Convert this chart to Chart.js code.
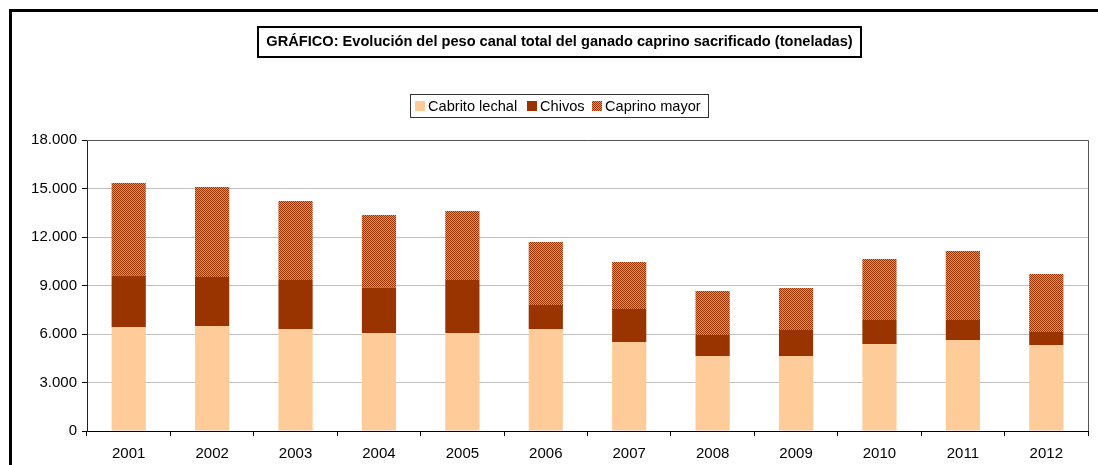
<!DOCTYPE html>
<html>
<head>
<meta charset="utf-8">
<script src="https://cdn.jsdelivr.net/npm/chart.js@4"></script>
<style>
  html, body { margin: 0; padding: 0; background: #fff; }
  #wrap { width: 1098px; height: 465px; position: relative; }
</style>
</head>
<body>
<div id="wrap"><canvas id="caprinoChart" width="1098" height="465"></canvas></div>
<script>
(function() {
    'use strict';

    const years = ['2001', '2002', '2003', '2004', '2005', '2006', '2007', '2008', '2009', '2010', '2011', '2012'];
    const cabritoLechal = [6430, 6500, 6310, 6060, 6060, 6310, 5500, 4640, 4640, 5380, 5630, 5320];
    const chivos = [3180, 3030, 3030, 2810, 3280, 1480, 2050, 1300, 1610, 1490, 1240, 800];
    const caprinoMayor = [5730, 5570, 4890, 4490, 4270, 3900, 2910, 2720, 2600, 3770, 4270, 3590];
    const yTickValues = [0, 3000, 6000, 9000, 12000, 15000, 18000];

    const titleText = 'GRÁFICO: Evolución del peso canal total del ganado caprino sacrificado (toneladas)';
    const fontFamily = '"Liberation Sans", Arial, sans-serif';

    // dotted fill for "Caprino mayor"
    function makePattern() {
        const c = document.createElement('canvas');
        c.width = 2;
        c.height = 2;
        const g = c.getContext('2d');
        g.fillStyle = '#993300';
        g.fillRect(0, 0, 2, 2);
        g.fillStyle = '#d49470';
        g.fillRect(1, 0, 1, 1);
        g.fillRect(0, 1, 1, 1);
        return g.createPattern(c, 'repeat');
    }

    function fmt(v) {
        return String(v).replace(/\B(?=(\d{3})+(?!\d))/g, '.');
    }

    const framePlugin = {
        id: 'frame',
        beforeDraw(chart) {
            const ctx = chart.ctx;
            ctx.save();
            ctx.fillStyle = '#fff';
            ctx.fillRect(0, 0, chart.width, chart.height);
            ctx.restore();
        },
        afterDraw(chart) {
            const ctx = chart.ctx;
            const a = chart.chartArea;
            ctx.save();

            // outer frame
            ctx.strokeStyle = '#000';
            ctx.lineWidth = 3;
            ctx.beginPath();
            ctx.moveTo(10.5, chart.height);
            ctx.lineTo(10.5, 10.5);
            ctx.lineTo(chart.width, 10.5);
            ctx.stroke();

            // plot border top/right
            ctx.strokeStyle = '#555';
            ctx.lineWidth = 1;
            ctx.beginPath();
            ctx.moveTo(a.left, Math.round(a.top) + 0.5);
            ctx.lineTo(Math.round(a.right) + 0.5, Math.round(a.top) + 0.5);
            ctx.lineTo(Math.round(a.right) + 0.5, a.bottom);
            ctx.stroke();

            // title box
            ctx.lineWidth = 2;
            ctx.strokeStyle = '#000';
            ctx.strokeRect(258, 27, 603, 30);
            ctx.fillStyle = '#000';
            ctx.font = 'bold 14.6px ' + fontFamily;
            ctx.textAlign = 'center';
            ctx.textBaseline = 'middle';
            ctx.fillText(titleText, 559.5, 42);

            // legend box
            ctx.lineWidth = 1;
            ctx.strokeStyle = '#333';
            ctx.strokeRect(410.5, 94.5, 298, 23);
            ctx.font = '14.6px ' + fontFamily;
            ctx.textAlign = 'left';
            const starts = [415, 527, 592];
            chart.data.datasets.forEach(function(ds, i) {
                ctx.fillStyle = ds.backgroundColor;
                ctx.fillRect(starts[i], 101, 10, 10);
                ctx.fillStyle = '#000';
                ctx.fillText(ds.label, starts[i] + 13, 106.5);
            });
            ctx.restore();
        }
    };

    const ctx = document.getElementById('caprinoChart');
    new Chart(ctx, {
        type: 'bar',
        data: {
            labels: years,
            datasets: [
                {
                    label: 'Cabrito lechal',
                    data: cabritoLechal,
                    backgroundColor: '#ffcc99'
                },
                {
                    label: 'Chivos',
                    data: chivos,
                    backgroundColor: '#993300'
                },
                {
                    label: 'Caprino mayor',
                    data: caprinoMayor,
                    backgroundColor: makePattern()
                }
            ]
        },
        options: {
            responsive: false,
            animation: false,
            devicePixelRatio: 1,
            layout: {
                padding: { top: 140, right: 10, left: 0, bottom: 0 }
            },
            datasets: {
                bar: {
                    categoryPercentage: 1,
                    barPercentage: 0.41,
                    borderWidth: 0
                }
            },
            plugins: {
                legend: { display: false },
                title: { display: false },
                tooltip: { enabled: false }
            },
            scales: {
                x: {
                    stacked: true,
                    afterFit(scale) { scale.height = 34; },
                    grid: {
                        offset: true,
                        drawOnChartArea: false,
                        drawTicks: true,
                        tickLength: 5,
                        color: '#000'
                    },
                    border: { color: '#000', width: 1 },
                    ticks: {
                        color: '#000',
                        padding: 9,
                        font: { family: fontFamily, size: 15 }
                    }
                },
                y: {
                    stacked: true,
                    min: 0,
                    max: 18000,
                    afterFit(scale) { scale.width = 87; },
                    afterBuildTicks(scale) {
                        scale.ticks = yTickValues.map(function(v) { return { value: v }; });
                    },
                    grid: {
                        color: '#c0c0c0',
                        tickColor: '#000',
                        tickLength: 5
                    },
                    border: { color: '#222', width: 1 },
                    ticks: {
                        color: '#000',
                        padding: 5,
                        font: { family: fontFamily, size: 15 },
                        callback: function(v) { return fmt(v); }
                    }
                }
            }
        },
        plugins: [framePlugin]
    });
})();
</script>
</body>
</html>
